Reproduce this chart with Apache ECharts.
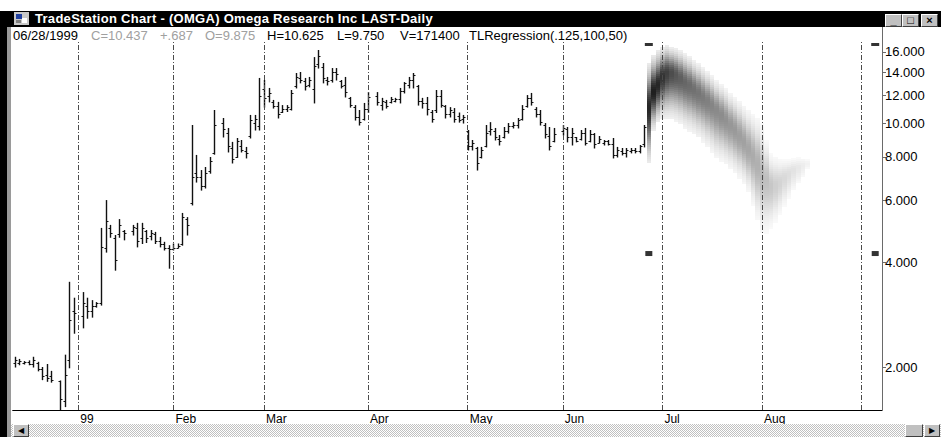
<!DOCTYPE html>
<html>
<head>
<meta charset="utf-8">
<script src="https://cdn.jsdelivr.net/npm/echarts@6/dist/echarts.min.js"></script>
<style>
  body { margin: 0; width: 941px; height: 437px; overflow: hidden; background: #fff; position: relative;
         font-family: "Liberation Sans", Arial, sans-serif; }
  #chart { position: absolute; left: 0; top: 0; width: 941px; height: 437px; }
  .titlebar { position: absolute; left: 0; top: 11px; width: 941px; height: 16px; background: #000; }
  .title { position: absolute; left: 35px; top: 0; color: #fff; font-weight: bold; font-size: 13px;
           line-height: 16px; white-space: nowrap; }
  .icon { position: absolute; left: 14px; top: 1px; width: 15px; height: 13px; background: #c8c8c8; }
  .icon i { position: absolute; display: block; }
  .btn { position: absolute; top: 3px; width: 15px; height: 11px; background: #c0c0c0;
         border-top: 1px solid #fff; border-left: 1px solid #fff; border-right: 1px solid #404040;
         border-bottom: 1px solid #404040; font-size: 11px; line-height: 11px; text-align: center;
         color: #000; font-weight: bold; }
  .hdr { position: absolute; top: 29px; font-size: 13px; line-height: 13px; white-space: nowrap; color: #000; }
  .gray { color: #a0a0a0; }
  .border { position: absolute; left: 0; top: 27px; width: 7px; height: 410px; background: #000; }
  .border2 { position: absolute; left: 7px; top: 27px; width: 4px; height: 410px; background: #9a9a9a; }
  .scroll { position: absolute; left: 11px; top: 424px; width: 930px; height: 13px;
            background: repeating-conic-gradient(#c0c0c0 0 25%, #fff 0 50%) 0 0 / 2px 2px; }
  .sbtn { position: absolute; top: 0; width: 14px; height: 11px; background: #c0c0c0;
          border-top: 1px solid #fff; border-left: 1px solid #fff; border-right: 1px solid #404040;
          border-bottom: 1px solid #404040; font-size: 8px; line-height: 11px; text-align: center; }
  .axisext { position: absolute; left: 882px; top: 27px; width: 1px; height: 16px; background: #6a6a6a; }
</style>
</head>
<body>
<div id="chart"></div>

<div class="titlebar">
  <div class="icon"><i style="left:2px;top:2px;width:6px;height:5px;background:#2040a0"></i><i style="left:8px;top:6px;width:5px;height:5px;background:#fff"></i><i style="left:2px;top:8px;width:5px;height:3px;background:#808080"></i></div>
  <div class="title" id="title">TradeStation Chart - (OMGA) Omega Research Inc LAST-Daily</div>
  <div class="btn" style="left:885px">_</div>
  <div class="btn" style="left:902px">&#9633;</div>
  <div class="btn" style="left:921px">&#215;</div>
</div>
<div class="hdr" style="left:13px">06/28/1999</div>
<div class="hdr gray" style="left:91px">C=10.437</div>
<div class="hdr gray" style="left:160px">+.687</div>
<div class="hdr gray" style="left:205px">O=9.875</div>
<div class="hdr" style="left:267px">H=10.625</div>
<div class="hdr" style="left:337px">L=9.750</div>
<div class="hdr" style="left:400px">V=171400</div>
<div class="hdr" style="left:469px">TLRegression(.125,100,50)</div>
<div class="axisext"></div>
<div class="border"></div>
<div class="border2"></div>
<div class="scroll">
  <div class="sbtn" style="left:2px">&#9664;</div>
  <div class="sbtn" style="left:894px;width:16px"></div>
  <div class="sbtn" style="left:913px">&#9654;</div>
</div>

<script>
// daily bars, 14 Dec 1998 .. 28 Jun 1999 (null = exchange holiday)
const opens = [2.06, 2.06, 2.05, 2.07, 2.04, 2.06, 1.98, 1.90, 1.88, null, 1.82, 1.60, 2.10, 2.90, null,
  2.80, 3.00, 2.90, 3.00, 3.05, 4.40, 5.00, 4.70, 4.80, 4.90, null, 4.90, 5.00, 4.70, 4.90, 4.75, 4.80, 4.60, 4.50, 4.40,
  4.35, 4.40, 4.50, 5.30, 5.90, 7.20, 7.00, 6.60, 7.30, 8.20, null, 10.00, 9.40, 8.50, 8.00, 8.60, 8.30, 9.20, 10.00, 9.80,
  12.50, 12.00, 11.50, 11.20, 10.80, 11.00, 11.00, 12.80, 13.50, 13.20, 12.90, 12.50, 14.80, 14.50, 13.30, 13.30, 14.00, 13.20, 12.90, 11.80, 11.10, 10.40, 10.30,
  11.00, null, 12.00, 11.30, 11.50, 11.50, 11.60, 11.70, 12.40, 12.90, 13.30, 12.80, 11.60, 11.40, 10.80, 10.90, 12.00, 11.20, 10.60, 10.80, 10.50, 10.30,
  9.50, 8.60, 8.50, 8.00, 8.60, 9.50, 9.50, 9.00, 9.10, 9.50, 9.80, 9.90, 10.30, 11.20, 11.80, 11.00, 10.60, 9.90, 9.20, 8.90, null,
  9.50, 9.60, 9.10, 9.10, 9.00, 9.40, 8.90, 9.30, 8.80, 8.80, 8.90, 8.70, 8.10, 8.30, 8.20, 8.30, 8.40, 8.30, 8.70, 9.875];
const highs = [2.14, 2.11, 2.08, 2.09, 2.14, 2.07, 2.00, 2.04, 1.95, null, 1.83, 2.17, 3.51, 3.16, null,
  3.28, 3.16, 3.11, 3.07, 5.01, 6.02, 5.11, 4.78, 5.31, 4.94, null, 5.11, 5.18, 5.18, 4.94, 4.94, 4.88, 4.72, 4.57, 4.47,
  4.52, 4.52, 5.53, 5.38, 9.88, 8.11, 7.34, 7.49, 8.00, 10.91, null, 10.35, 9.69, 8.84, 9.07, 8.95, 8.55, 10.56, 10.56, 13.48,
  13.30, 12.62, 11.66, 11.51, 11.27, 11.27, 12.45, 13.93, 14.02, 13.48, 13.57, 15.47, 16.21, 14.88, 13.57, 14.39, 14.39, 13.30, 13.57, 11.89, 11.27, 10.91, 11.43,
  12.28, null, 12.28, 11.82, 11.66, 11.89, 11.82, 12.62, 13.12, 13.57, 13.93, 12.87, 11.82, 11.89, 10.91, 12.45, 12.45, 11.27, 11.12, 11.05, 10.73, 10.56,
  9.56, 8.95, 8.55, 8.55, 9.88, 10.07, 9.69, 9.25, 9.75, 10.01, 10.07, 10.35, 11.27, 12.04, 12.21, 11.12, 10.91, 10.01, 9.75, 9.69, null,
  9.88, 9.75, 9.69, 9.13, 9.56, 9.69, 9.56, 9.37, 9.19, 8.95, 8.95, 9.07, 8.55, 8.49, 8.49, 8.49, 8.49, 8.66, 9.88, 10.625];
const lows = [2.00, 2.03, 2.04, 2.03, 2.00, 1.95, 1.84, 1.82, 1.81, null, 1.51, 1.54, 1.99, 2.50, null,
  2.59, 2.76, 2.78, 2.97, 3.01, 4.27, 4.71, 3.79, 4.71, 4.63, null, 4.78, 4.42, 4.52, 4.55, 4.63, 4.52, 4.42, 4.33, 3.84,
  4.33, 4.39, 4.47, 4.78, 5.83, 6.78, 6.43, 6.52, 7.19, 8.15, null, 9.13, 8.27, 7.69, 7.98, 8.27, 7.95, 9.07, 9.56, 9.56,
  11.12, 11.51, 11.05, 10.35, 10.73, 10.80, 10.91, 12.62, 13.05, 12.45, 12.71, 11.43, 14.39, 13.05, 12.87, 13.12, 13.30, 12.62, 11.89, 11.12, 10.21, 9.88, 10.21,
  10.73, null, 11.27, 10.91, 11.05, 11.43, 11.51, 11.43, 12.21, 12.62, 12.62, 11.27, 11.05, 10.56, 10.07, 10.73, 11.12, 10.35, 10.42, 10.07, 10.07, 10.01,
  8.38, 8.38, 7.34, 7.95, 8.55, 9.25, 8.95, 8.66, 9.07, 9.37, 9.69, 9.69, 10.21, 11.12, 11.27, 10.42, 9.88, 9.07, 8.38, 8.84, null,
  9.25, 8.84, 8.66, 8.84, 8.95, 8.66, 8.84, 8.49, 8.78, 8.66, 8.66, 7.95, 8.00, 8.11, 8.00, 8.22, 8.22, 8.22, 8.55, 9.75];
const closes = [2.09, 2.08, 2.07, 2.04, 2.10, 1.97, 1.88, 1.86, 1.84, null, 1.62, 1.90, 2.73, 2.85, null,
  3.05, 2.90, 3.00, 3.05, 4.41, 5.25, 4.85, 4.05, 5.10, 4.85, null, 5.05, 4.60, 5.00, 4.70, 4.85, 4.60, 4.50, 4.40, 4.35,
  4.40, 4.45, 5.40, 5.10, 7.00, 7.00, 6.60, 7.20, 7.80, 9.90, null, 9.60, 8.60, 7.90, 8.90, 8.40, 8.20, 10.20, 10.30, 12.00,
  11.80, 12.20, 11.20, 10.60, 11.00, 11.10, 12.20, 13.60, 13.30, 12.80, 13.30, 14.60, 15.60, 13.50, 13.20, 14.00, 13.80, 12.80, 12.30, 11.30, 10.40, 10.10, 11.00,
  11.90, null, 11.50, 11.60, 11.20, 11.70, 11.70, 12.40, 13.00, 13.30, 13.70, 11.60, 11.40, 11.00, 10.30, 12.00, 11.30, 10.60, 10.90, 10.30, 10.20, 10.40,
  8.60, 8.80, 7.70, 8.40, 9.40, 9.60, 9.10, 8.90, 9.50, 9.80, 9.90, 10.20, 11.00, 11.80, 11.50, 10.60, 10.10, 9.30, 8.60, 9.30, null,
  9.70, 9.10, 9.40, 8.90, 9.40, 8.80, 9.30, 8.70, 9.00, 8.90, 8.70, 8.10, 8.40, 8.20, 8.40, 8.40, 8.30, 8.60, 9.75, 10.437];

// TLRegression projection cloud, one column per day from 28 Jun 1999
const fcStart = 140;
const fcMid = [11.06, 12.29, 12.87, 13.57, 13.93, 13.93, 13.75, 13.48, 13.12, 12.87, 12.54, 12.21, 11.89, 11.58, 11.27, 10.91,
  10.56, 10.21, 9.88, 9.56, 9.19, 8.84, 8.43, 8.05, 7.64, 7.24, 6.87, 6.61, 6.61, 6.74, 6.96, 7.15, 7.34, 7.44, 7.54, 7.64];
const fcHigh = [14.88, 15.68, 16.21, 16.54, 16.76, 16.54, 16.43, 16.21, 15.89, 15.58, 15.17, 14.88, 14.49, 14.11, 13.75, 13.30,
  12.95, 12.62, 12.21, 11.89, 11.58, 11.20, 10.91, 10.63, 10.35, 10.01, 8.95, 8.21, 8.11, 8.00, 8.00, 8.00, 8.05, 8.11, 8.11, 8.00];
const fcLow = [7.69, 9.56, 10.08, 10.35, 10.35, 10.35, 10.21, 10.01, 9.75, 9.56, 9.37, 9.13, 8.89, 8.60, 8.32, 8.00,
  7.84, 7.64, 7.44, 7.20, 6.96, 6.70, 6.35, 5.83, 5.28, 4.85, 4.85, 4.94, 5.14, 5.38, 5.64, 5.91, 6.23, 6.52, 6.78, 7.24];
const fcShade = [0.85, 0.88, 0.85, 0.8, 0.75, 0.7, 0.66, 0.63, 0.6, 0.58, 0.56, 0.54, 0.52, 0.5, 0.48, 0.46,
  0.45, 0.43, 0.41, 0.4, 0.38, 0.37, 0.35, 0.33, 0.31, 0.28, 0.25, 0.22, 0.19, 0.17, 0.15, 0.13, 0.11, 0.09, 0.07, 0.05];

// small channel markers
const markTop = [[140, 16.81], [190, 16.81]];
const markBottom = [[140, 4.23], [190, 4.23]];

const yTicks = [2, 4, 6, 8, 10, 12, 14, 16];
const monthNames = ['99', 'Feb', 'Mar', 'Apr', 'May', 'Jun', 'Jul', 'Aug', ''];

// weekday axis (TradeStation keeps holidays as empty slots)
const dates = [];
let day = new Date(Date.UTC(1998, 11, 14));
while (dates.length < 192) {
  const wd = day.getUTCDay();
  if (wd > 0 && wd < 6) dates.push(day.toISOString().slice(0, 10));
  day.setUTCDate(day.getUTCDate() + 1);
}
const isMonthStart = i => i > 0 && dates[i].slice(5, 7) !== dates[i - 1].slice(5, 7);
const isMonday = i => new Date(dates[i] + 'T00:00:00Z').getUTCDay() === 1;
const monthStarts = dates.map((d, i) => i).filter(isMonthStart);

const barData = [];
opens.forEach((o, i) => {
  if (o != null) barData.push([i, o, closes[i], lows[i], highs[i]]);
});
const coneData = fcMid.map((m, k) => [fcStart + k, m, fcHigh[k], fcLow[k], fcShade[k]]);

function renderBar(params, api) {
  const i = api.value(0);
  const o = api.coord([i, api.value(1)]);
  const c = api.coord([i, api.value(2)]);
  const l = api.coord([i, api.value(3)]);
  const h = api.coord([i, api.value(4)]);
  const x = Math.round(h[0]) + 0.5;
  const st = { stroke: '#111', lineWidth: 1.4 };
  return {
    type: 'group',
    children: [
      { type: 'line', shape: { x1: x, y1: h[1], x2: x, y2: l[1] + 0.5 }, style: st },
      { type: 'line', shape: { x1: x - 2, y1: Math.round(o[1]) + 0.5, x2: x, y2: Math.round(o[1]) + 0.5 }, style: { stroke: '#111', lineWidth: 1 } },
      { type: 'line', shape: { x1: x, y1: Math.round(c[1]) + 0.5, x2: x + 2, y2: Math.round(c[1]) + 0.5 }, style: { stroke: '#111', lineWidth: 1 } }
    ]
  };
}

// one day of the cloud: 2px cells, darkest on the regression value
function renderCone(params, api) {
  const i = api.value(0);
  const m = api.coord([i, api.value(1)]);
  const t = api.coord([i, api.value(2)]);
  const b = api.coord([i, api.value(3)]);
  const shade = api.value(4);
  const w = api.size([1, 0])[0];
  const left = Math.round(m[0] - w / 2);
  const right = Math.round(m[0] + w / 2);
  const sUp = Math.max((m[1] - t[1]) / 2.2, 1);
  const sDn = Math.max((b[1] - m[1]) / 2.2, 1);
  const kids = [];
  for (let y = Math.round(t[1]); y < b[1]; y += 2) {
    const d = y + 1 - m[1];
    const s = d < 0 ? sUp : sDn;
    const a = shade * Math.exp(-0.5 * (d / s) * (d / s));
    if (a < 0.02) continue;
    const g = Math.round(255 * (1 - a));
    kids.push({ type: 'rect', shape: { x: left, y: y, width: right - left, height: 2 },
      style: { fill: 'rgb(' + g + ',' + g + ',' + g + ')' } });
  }
  return { type: 'group', children: kids };
}

const font = '"Liberation Sans", Arial, sans-serif';
const chart = echarts.init(document.getElementById('chart'), null, { renderer: 'svg' });
chart.setOption({
  animation: false,
  grid: { left: 12.7, right: 59, top: 42, bottom: 27 },
  xAxis: [{
    type: 'category', data: dates, boundaryGap: true,
    axisLine: { lineStyle: { color: '#000', width: 1 } },
    axisTick: { alignWithLabel: true, interval: i => isMonday(i), length: 3, lineStyle: { color: '#000' } },
    axisLabel: { show: false },
    splitLine: { show: false }
  }, {
    type: 'category', data: dates, boundaryGap: true, position: 'bottom',
    axisLine: { show: false },
    axisTick: { alignWithLabel: true, interval: i => isMonthStart(i), length: 6, lineStyle: { color: '#555' } },
    axisLabel: {
      interval: i => isMonthStart(i), align: 'left', padding: [0, 0, 0, 2], margin: 3,
      fontSize: 12, color: '#000', fontFamily: font,
      formatter: (v) => {
        const k = monthStarts.indexOf(dates.indexOf(v));
        return k >= 0 ? monthNames[k] : '';
      }
    },
    splitLine: { show: false }
  }],
  yAxis: {
    type: 'log', logBase: 2, position: 'right', min: 1.506, max: 17.09,
    axisLine: { show: true, lineStyle: { color: '#6a6a6a', width: 1 } },
    axisTick: { show: true, length: 4, customValues: yTicks, lineStyle: { color: '#6a6a6a' } },
    axisLabel: { customValues: yTicks, formatter: v => Number(v).toFixed(3), color: '#000', fontSize: 13, margin: 3, fontFamily: font },
    splitLine: { show: false }
  },
  series: [{
    type: 'custom', renderItem: renderBar, data: barData, xAxisIndex: 0,
    encode: { x: 0, y: [1, 2, 3, 4] }, silent: true, z: 3
  }, {
    type: 'custom', renderItem: renderCone, data: coneData, xAxisIndex: 0,
    encode: { x: 0, y: [1, 2, 3] }, silent: true, z: 4
  }, {
    type: 'scatter', data: markTop, symbol: 'rect', symbolSize: [8, 3], xAxisIndex: 0,
    itemStyle: { color: '#000' }, silent: true, z: 5,
    markLine: {
      silent: true, symbol: ['none', 'none'], label: { show: false },
      lineStyle: { color: '#4a4a4a', width: 1, type: [5, 2, 1, 2] },
      data: monthStarts.map(i => ({ xAxis: dates[i] }))
    }
  }, {
    type: 'scatter', data: markBottom, symbol: 'rect', symbolSize: [7, 5], xAxisIndex: 0,
    itemStyle: { color: '#000' }, silent: true, z: 5
  }]
});

// stretch the title to the width it has in the window caption
const t = document.getElementById('title');
const extra = (398 - t.getBoundingClientRect().width) / t.textContent.length;
t.style.letterSpacing = extra.toFixed(2) + 'px';
</script>
</body>
</html>
